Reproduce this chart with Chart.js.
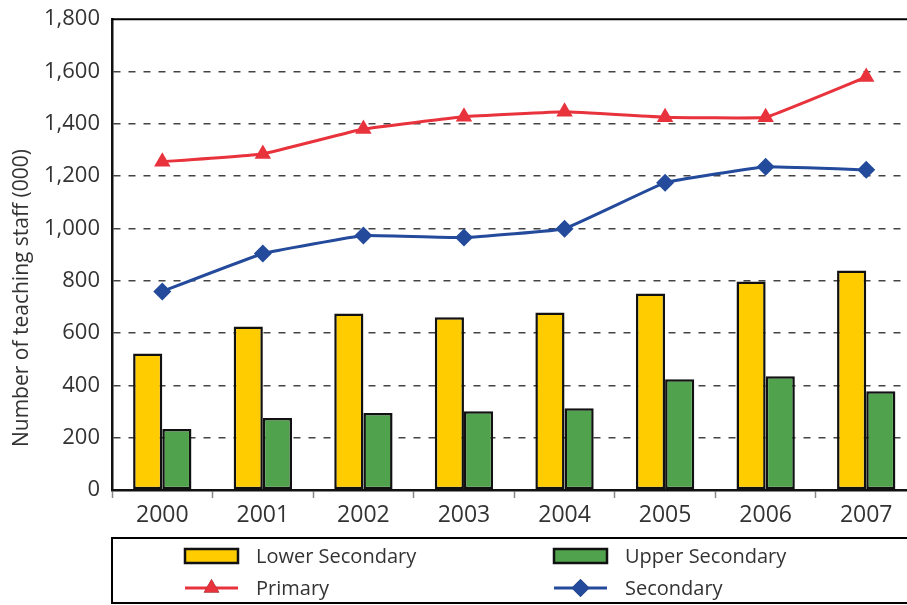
<!DOCTYPE html>
<html>
<head>
<meta charset="utf-8">
<script src="https://cdn.jsdelivr.net/npm/chart.js@4/dist/chart.umd.min.js"></script>
<style>
  html, body { margin: 0; padding: 0; background: #fff; overflow: hidden; }
  #wrap { width: 907px; height: 605px; overflow: hidden; }
  #box { width: 926px; height: 611px; margin-top: -6px; }
</style>
</head>
<body>
<div id="wrap"><div id="box"><canvas id="grafica"></canvas></div></div>
<script>
const YEARS = ["2000", "2001", "2002", "2003", "2004", "2005", "2006", "2007"];
const LOWER_SEC = [522, 625, 675, 660, 679, 751, 797, 839];
const UPPER_SEC = [233, 275, 294, 301, 313, 423, 435, 378];
const PRIMARY = [1255, 1285, 1380, 1427, 1446, 1425, 1425, 1579];
const SECONDARY = [759, 904, 973, 965, 999, 1175, 1236, 1224];
const Y_TITLE = "Number of teaching staff (000)";

const FONT = "'Open Sans', 'Noto Sans', sans-serif";
const TXT = "#333333";
const RED = "#e8323c";
const BLUE = "#234a9b";
const YELLOW = "#ffcc00";
const GREEN = "#50a24c";

// marco superior, titulo del eje y leyenda en caja
const extras = {
  id: "extras",
  afterDraw(chart) {
    const { ctx, chartArea } = chart;
    const L = chartArea.left;
    const B = chartArea.bottom;
    ctx.save();
    // línea superior del área
    ctx.strokeStyle = "#000";
    ctx.lineWidth = 2;
    ctx.beginPath();
    ctx.moveTo(L, chartArea.top);
    ctx.lineTo(chartArea.right + 5, chartArea.top);
    ctx.stroke();

    // titulo vertical
    ctx.save();
    ctx.translate(22, B - 192);
    ctx.rotate(-Math.PI / 2);
    ctx.fillStyle = TXT;
    ctx.font = "21px " + FONT;
    ctx.textAlign = "center";
    ctx.textBaseline = "middle";
    ctx.fillText(Y_TITLE, 0, 0);
    ctx.restore();

    // caja de leyenda
    const top = B + 48, bottom = B + 113;
    ctx.strokeStyle = "#000";
    ctx.lineWidth = 2;
    ctx.strokeRect(L, top, chartArea.right - L + 10, bottom - top);

    const col1 = L + 73, col2 = L + 442;
    const row1 = B + 66, row2 = B + 98;
    const items = [
      { text: "Lower Secondary", x: col1, y: row1, kind: "bar", color: YELLOW },
      { text: "Upper Secondary", x: col2, y: row1, kind: "bar", color: GREEN },
      { text: "Primary", x: col1, y: row2, kind: "triangle", color: RED },
      { text: "Secondary", x: col2, y: row2, kind: "rectRot", color: BLUE }
    ];
    items.forEach(it => {
      if (it.kind === "bar") {
        ctx.fillStyle = it.color;
        ctx.fillRect(it.x, it.y - 7, 53, 14);
        ctx.lineWidth = 2.5;
        ctx.strokeStyle = "#111";
        ctx.strokeRect(it.x, it.y - 7, 53, 14);
      } else {
        ctx.strokeStyle = it.color;
        ctx.lineWidth = 3;
        ctx.beginPath();
        ctx.moveTo(it.x, it.y);
        ctx.lineTo(it.x + 53, it.y);
        ctx.stroke();
        Chart.helpers.drawPoint(ctx, { pointStyle: it.kind, radius: 9, borderWidth: 0 }, it.x + 26.5, it.y);
        ctx.fillStyle = it.color;
        ctx.fill();
      }
      ctx.fillStyle = TXT;
      ctx.font = "20px " + FONT;
      ctx.textBaseline = "middle";
      ctx.textAlign = "left";
      ctx.fillText(it.text, it.x + 71, it.y + 1);
    });
    ctx.restore();
  }
};

const ctx = document.getElementById("grafica");

new Chart(ctx, {
  type: "bar",
  data: {
    labels: YEARS,
    datasets: [
      {
        type: "line",
        label: "Primary",
        data: PRIMARY,
        borderColor: RED,
        backgroundColor: RED,
        borderWidth: 3,
        pointStyle: "triangle",
        pointRadius: 9.5,
        pointBorderWidth: 0,
        tension: 0.07
      },
      {
        type: "line",
        label: "Secondary",
        data: SECONDARY,
        borderColor: BLUE,
        backgroundColor: BLUE,
        borderWidth: 3,
        pointStyle: "rectRot",
        pointRadius: 9,
        pointBorderWidth: 0,
        tension: 0.07
      },
      {
        label: "Lower Secondary",
        data: LOWER_SEC,
        backgroundColor: YELLOW,
        borderColor: "#111",
        borderWidth: 2.5,
        borderSkipped: false,
        categoryPercentage: 0.58,
        barPercentage: 1
      },
      {
        label: "Upper Secondary",
        data: UPPER_SEC,
        backgroundColor: GREEN,
        borderColor: "#111",
        borderWidth: 2.5,
        borderSkipped: false,
        categoryPercentage: 0.58,
        barPercentage: 1
      }
    ]
  },
  options: {
    responsive: true,
    maintainAspectRatio: false,
    animation: false,
    layout: { padding: { top: 12, right: 2, bottom: 67, left: 0 } },
    plugins: {
      legend: { display: false },
      tooltip: { enabled: false }
    },
    scales: {
      x: {
        grid: {
          drawOnChartArea: false,
          tickLength: 8,
          tickColor: "#888",
          tickWidth: 1.5
        },
        border: { color: "#111", width: 2.5 },
        ticks: {
          color: TXT,
          font: { family: FONT, size: 23 },
          padding: 4
        },
        afterFit(scale) { scale.height = 48; }
      },
      y: {
        min: 0,
        max: 1800,
        ticks: {
          stepSize: 200,
          color: TXT,
          font: { family: FONT, size: 22 },
          padding: 12,
          callback: v => v.toLocaleString("en-US")
        },
        grid: {
          drawTicks: false,
          color: c => (c.tick.value === 0 || c.tick.value === 1800) ? "rgba(0,0,0,0)" : "#444",
          lineWidth: 1.5
        },
        border: { color: "#111", width: 2.5, dash: [7, 8] },
        afterFit(scale) { scale.width = 112; }
      }
    }
  },
  plugins: [extras]
});
</script>
</body>
</html>
